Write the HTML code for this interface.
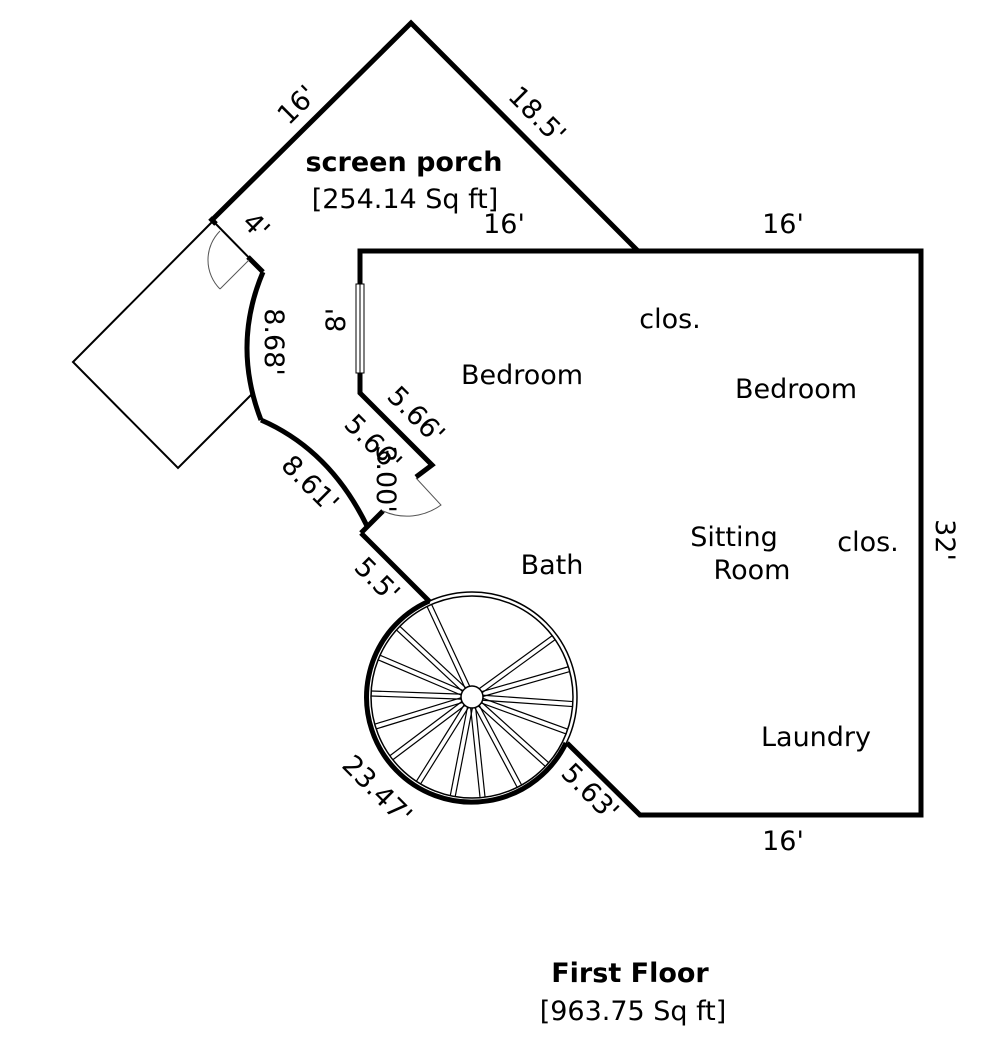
<!DOCTYPE html>
<html><head><style>
html,body{margin:0;padding:0;background:#fff;}
svg{display:block;}
text{font-family:"DejaVu Sans","Liberation Sans",sans-serif;font-size:27px;fill:#000;}
</style></head><body>
<svg width="995" height="1037" viewBox="0 0 995 1037" xmlns="http://www.w3.org/2000/svg">
<!-- deck thin -->
<polyline points="212,222 73,362 178,468 252,394" fill="none" stroke="#000" stroke-width="2"/>
<!-- porch -->
<polyline points="212,220 411,23 638,251" fill="none" stroke="#000" stroke-width="5"/>
<line x1="212" y1="220" x2="263" y2="272" stroke="#000" stroke-width="2"/>
<line x1="248" y1="257" x2="263" y2="272" stroke="#000" stroke-width="5"/>
<line x1="210" y1="218" x2="216" y2="224" stroke="#000" stroke-width="5"/>
<!-- door at porch -->
<path d="M220,289 A41,41 0 0 1 220,231" fill="none" stroke="#555" stroke-width="1"/>
<line x1="249" y1="260" x2="220" y2="289" stroke="#555" stroke-width="1"/>
<!-- 8.68 arc -->
<path d="M263,272 Q232,345 261,420" fill="none" stroke="#000" stroke-width="5"/>
<!-- 8.61 arc -->
<path d="M261,420 Q330,450 367,526" fill="none" stroke="#000" stroke-width="5"/>
<line x1="361" y1="533" x2="383" y2="511" stroke="#000" stroke-width="5"/>
<!-- door lower -->
<path d="M383,511 A58,58 0 0 0 441,505 L416,478" fill="none" stroke="#555" stroke-width="1"/>
<polyline points="416,477 432,465 360,393 360,251 921,251 921,815 640,815 567,743" fill="none" stroke="#000" stroke-width="5"/>
<!-- window -->
<rect x="356" y="284" width="8" height="89" fill="#fff" stroke="#000" stroke-width="1"/>
<line x1="360" y1="284" x2="360" y2="373" stroke="#000" stroke-width="1"/>
<!-- 5.5 wall -->
<polyline points="361,533 430,602" fill="none" stroke="#000" stroke-width="5"/>
<!-- stair -->
<circle cx="472" cy="697" r="105" fill="none" stroke="#000" stroke-width="1.5"/>
<circle cx="472" cy="697" r="101" fill="none" stroke="#000" stroke-width="1.5"/>
<circle cx="472" cy="697" r="11" fill="#fff" stroke="#000" stroke-width="1.5"/>
<g stroke="#000" stroke-width="1.2">
<g id="sp"></g>
</g>
<path d="M429.3,601 A105,105 0 1 0 566,743" fill="none" stroke="#000" stroke-width="5"/>
<!-- labels -->
<text x="297" y="114" transform="rotate(-45 297 105)" text-anchor="middle">16'</text>
<text x="537" y="124" transform="rotate(45 537 115)" text-anchor="middle">18.5'</text>
<text x="256" y="235" transform="rotate(45 256 226)" text-anchor="middle">4'</text>
<text x="274" y="351" transform="rotate(90 274 342)" text-anchor="middle">8.68'</text>
<text x="336" y="329" transform="rotate(-90 336 320)" text-anchor="middle">8'</text>
<text x="416" y="424" transform="rotate(45 416 415)" text-anchor="middle">5.66'</text>
<text x="373" y="452" transform="rotate(45 373 443)" text-anchor="middle">5.66'</text>
<text x="386" y="488" transform="rotate(90 386 479)" text-anchor="middle">3.00'</text>
<text x="310" y="493" transform="rotate(45 310 484)" text-anchor="middle">8.61'</text>
<text x="377" y="589" transform="rotate(45 377 580)" text-anchor="middle">5.5'</text>
<text x="377" y="799" transform="rotate(45 377 790)" text-anchor="middle">23.47'</text>
<text x="590" y="801" transform="rotate(45 590 792)" text-anchor="middle">5.63'</text>
<text x="945" y="549" transform="rotate(90 945 540)" text-anchor="middle">32'</text>
<text x="404" y="171" text-anchor="middle" style="font-weight:bold">screen porch</text>
<text x="405" y="208" text-anchor="middle">[254.14 Sq ft]</text>
<text x="504" y="233" text-anchor="middle">16'</text>
<text x="783" y="233" text-anchor="middle">16'</text>
<text x="670" y="328" text-anchor="middle">clos.</text>
<text x="522" y="384" text-anchor="middle">Bedroom</text>
<text x="796" y="398" text-anchor="middle">Bedroom</text>
<text x="734" y="546" text-anchor="middle">Sitting</text>
<text x="752" y="579" text-anchor="middle">Room</text>
<text x="868" y="551" text-anchor="middle">clos.</text>
<text x="552" y="574" text-anchor="middle">Bath</text>
<text x="816" y="746" text-anchor="middle">Laundry</text>
<text x="783" y="850" text-anchor="middle">16'</text>
<text x="630" y="982" text-anchor="middle" style="font-weight:bold">First Floor</text>
<text x="633" y="1020" text-anchor="middle">[963.75 Sq ft]</text>
</svg>
<script>
(function(){
var g=document.getElementById('sp'),ns='http://www.w3.org/2000/svg';
var a=[-115,-137,-157,-178,163,143,122,101,84,62,42,20,4,-16,-36];
a.forEach(function(d){
 var r=d*Math.PI/180,c=Math.cos(r),s=Math.sin(r);
 [-2.5,2.5].forEach(function(o){
  var l=document.createElementNS(ns,'line');
  var px=-s*o,py=c*o;
  l.setAttribute('x1',472+c*11+px);l.setAttribute('y1',697+s*11+py);
  l.setAttribute('x2',472+c*101+px);l.setAttribute('y2',697+s*101+py);
  g.appendChild(l);
 });
});
})();
</script>
</body></html>
